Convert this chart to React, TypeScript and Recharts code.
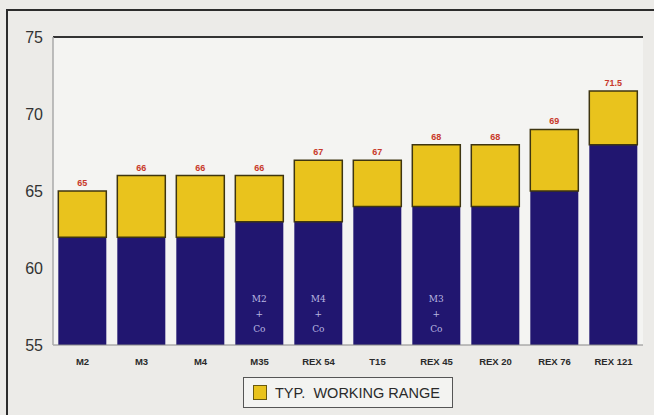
import {
  Bar,
  BarChart,
  CartesianGrid,
  LabelList,
  ReferenceLine,
  XAxis,
  YAxis,
} from "recharts";

const GRADES = ["M2", "M3", "M4", "M35", "REX 54", "T15", "REX 45", "REX 20", "REX 76", "REX 121"];
const BASE_HRC = [62, 62, 62, 63, 63, 64, 64, 64, 65, 68];
const TOP_HRC = [65, 66, 66, 66, 67, 67, 68, 68, 69, 71.5];
const TOP_LABELS = ["65", "66", "66", "66", "67", "67", "68", "68", "69", "71.5"];
const NOTES = ["", "", "", "M2|+|Co", "M4|+|Co", "", "M3|+|Co", "", "", ""];
const Y_TICKS = [55, 60, 65, 70, 75];

const NAVY = "#211670";
const YELLOW = "#e9c31d";

const data = GRADES.map((g, i) => ({
  grade: g,
  base: BASE_HRC[i],
  range: +(TOP_HRC[i] - BASE_HRC[i]).toFixed(1),
  top: TOP_LABELS[i],
  note: NOTES[i],
}));

function TopLabel(props: any) {
  const { x, y, width, value } = props;
  return (
    <text
      x={x + width / 2}
      y={y - 5}
      textAnchor="middle"
      fill="#c8382a"
      fontSize={9}
      fontWeight="bold"
      fontFamily="Arial, Liberation Sans, sans-serif"
    >
      {value}
    </text>
  );
}

function NoteLabel(props: any) {
  const { x, width, value } = props;
  if (!value) return null;
  const lines = String(value).split("|");
  return (
    <g>
      {lines.map((l, i) => (
        <text
          key={i}
          x={x + width / 2}
          y={302 + i * 15}
          textAnchor="middle"
          fill="#b9b6e0"
          fontSize={9}
          fontFamily="DejaVu Serif, serif"
        >
          {l}
        </text>
      ))}
    </g>
  );
}

function LegendBox() {
  return (
    <div
      style={{
        position: "absolute",
        left: 243,
        top: 377,
        width: 210,
        height: 31,
        display: "flex",
        alignItems: "center",
        border: "1px solid #555",
        background: "#f3f3f1",
        padding: "0 9px",
        fontFamily: "Arial, Liberation Sans, sans-serif",
        fontSize: 14.5,
        color: "#2a2a2a",
        boxSizing: "border-box",
        whiteSpace: "nowrap",
      }}
    >
      <span
        style={{
          width: 12,
          height: 13,
          background: YELLOW,
          border: "1px solid #6a5a10",
          marginRight: 8,
          flexShrink: 0,
        }}
      />
      TYP.&nbsp;&nbsp;WORKING RANGE
    </div>
  );
}

export default function App() {
  return (
    <div
      style={{
        position: "fixed",
        left: 0,
        top: 0,
        width: 654,
        height: 415,
        background: "#ecebe8",
        overflow: "hidden",
      }}
    >
      <div
        style={{
          position: "absolute",
          left: 6,
          top: 9,
          width: 700,
          height: 500,
          border: "2px solid #2c2c2c",
        }}
      />
      <BarChart
        width={654}
        height={415}
        data={data}
        margin={{ top: 37, right: 11, left: 0, bottom: 40 }}
        barCategoryGap="9%"
        style={{ position: "absolute", left: 0, top: 0 }}
      >
        <CartesianGrid horizontal={false} vertical={false} fill="#f4f4f2" />
        <XAxis
          dataKey="grade"
          height={30}
          tickSize={0}
          tickMargin={13}
          axisLine={{ stroke: "#888" }}
          tick={{ fill: "#2a2a2a", fontSize: 9.5, fontWeight: "bold", fontFamily: "Arial, Liberation Sans, sans-serif" }}
          interval={0}
        />
        <YAxis
          domain={[55, 75]}
          ticks={Y_TICKS}
          allowDataOverflow
          width={53}
          tickSize={0}
          tickMargin={10}
          axisLine={{ stroke: "#aaa", strokeWidth: 1.5 }}
          tick={{ fill: "#333", fontSize: 16, fontFamily: "Arial, Liberation Sans, sans-serif" }}
        />
        <YAxis
          yAxisId="r"
          orientation="right"
          domain={[55, 75]}
          width={0}
          tick={false}
          tickSize={0}
          axisLine={{ stroke: "#555", strokeWidth: 1.5 }}
        />
        <ReferenceLine y={75} stroke="#333" strokeWidth={2} />
        <Bar dataKey="base" stackId="a" fill={NAVY} isAnimationActive={false}>
          <LabelList dataKey="note" content={NoteLabel} />
        </Bar>
        <Bar
          dataKey="range"
          name="TYP. WORKING RANGE"
          stackId="a"
          fill={YELLOW}
          stroke="#3e3510"
          strokeWidth={1.5}
          isAnimationActive={false}
        >
          <LabelList dataKey="top" content={TopLabel} />
        </Bar>
      </BarChart>
      <LegendBox />
    </div>
  );
}
